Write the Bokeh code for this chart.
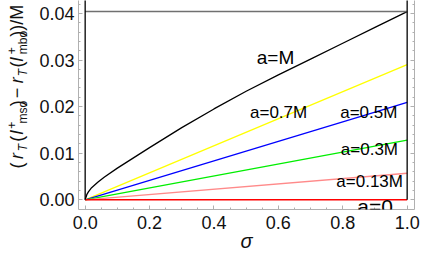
from math import pi
from bokeh.plotting import figure
from bokeh.layouts import row
from bokeh.models import (FixedTicker, PrintfTickFormatter, LinearAxis, Label,
                          Range1d, CustomJSTickFormatter)
from bokeh.core.properties import value
from bokeh.embed import file_html
from bokeh.resources import INLINE

# ---------------- data ----------------
sigma_M = [0, 0.005, 0.01, 0.02, 0.04, 0.06, 0.1, 0.15, 0.2, 0.3, 0.4, 0.5,
           0.6, 0.7, 0.8, 0.9, 1.0]
dr_M = [0, 0.0011, 0.0017, 0.0026, 0.0038, 0.0049, 0.0068, 0.0090, 0.0112,
        0.0155, 0.0195, 0.0233, 0.0268, 0.0302, 0.0336, 0.0370, 0.0404]

sigma_lin = [0.0, 1.0]
dr_07 = [0.0, 0.0290]
dr_05 = [0.0, 0.0209]
dr_03 = [0.0, 0.0128]
dr_013 = [0.0, 0.0057]
dr_0 = [0.0, 0.0]

top_level = [0.0404, 0.0404]
edge_x = [0.0, 1.0]

series_labels = ["a=M", "a=0.7M", "a=0.5M", "a=0.3M", "a=0.13M", "a=0"]

x_ticks = [0.0, 0.2, 0.4, 0.6, 0.8, 1.0]
x_minor = [0.05, 0.1, 0.15, 0.25, 0.3, 0.35, 0.45, 0.5, 0.55, 0.65, 0.7, 0.75,
           0.85, 0.9, 0.95]
y_ticks = [0.00, 0.01, 0.02, 0.03, 0.04]
y_minor = [0.002, 0.004, 0.006, 0.008, 0.012, 0.014, 0.016, 0.018, 0.022,
           0.024, 0.026, 0.028, 0.032, 0.034, 0.036, 0.038, 0.042]

FONT = "Liberation Sans"
AX = "#b0b0b0"
TXT = "#111111"

YL_W = 36           # width of the strip holding the rotated y title
MAIN_W = 422 - YL_W
H = 265

# ---------------- main plot ----------------
p = figure(width=MAIN_W, height=H, output_backend="svg",
           toolbar_location=None,
           x_range=Range1d(-0.0207, 1.0228), y_range=Range1d(-0.00208, 0.04277),
           min_border_left=76 - YL_W, min_border_right=8, min_border_top=0,
           min_border_bottom=H - 209)
p.outline_line_color = None
p.grid.visible = False
p.background_fill_color = "white"
p.border_fill_color = "white"

xt = FixedTicker(ticks=x_ticks, minor_ticks=x_minor)
yt = FixedTicker(ticks=y_ticks, minor_ticks=y_minor)


def style_axis(ax):
    ax.axis_line_color = AX
    ax.axis_line_width = 1
    ax.major_tick_line_color = AX
    ax.minor_tick_line_color = AX
    ax.major_tick_in = 4
    ax.major_tick_out = 0
    ax.minor_tick_in = 2
    ax.minor_tick_out = 0
    ax.major_label_text_font = FONT
    ax.major_label_text_font_size = "18px"
    ax.major_label_text_color = TXT


p.xaxis.ticker = xt
p.xaxis.formatter = PrintfTickFormatter(format="%.1f")
p.yaxis.ticker = yt
p.yaxis.formatter = PrintfTickFormatter(format="%.2f")
style_axis(p.xaxis[0])
style_axis(p.yaxis[0])
p.xaxis.major_label_standoff = 6
p.yaxis.major_label_standoff = 4
p.xaxis.axis_label = "σ"
p.xaxis.axis_label_text_font = FONT
p.xaxis.axis_label_text_font_style = "italic"
p.xaxis.axis_label_text_font_size = "20px"
p.xaxis.axis_label_text_color = TXT
p.xaxis.axis_label_standoff = -2

ra = LinearAxis(ticker=yt, major_label_standoff=0,
                formatter=CustomJSTickFormatter(code="return ''"))
style_axis(ra)
p.add_layout(ra, "right")

# curves
p.line(sigma_M, dr_M, line_color="black", line_width=1.3)
p.line(sigma_lin, dr_07, line_color="#ffff00", line_width=1.3)
p.line(sigma_lin, dr_05, line_color="#0000ff", line_width=1.3)
p.line(sigma_lin, dr_03, line_color="#00ee00", line_width=1.3)
p.line(sigma_lin, dr_013, line_color="#ff8a8a", line_width=1.3)
p.line(sigma_lin, dr_0, line_color="#ff0000", line_width=1.5)
p.line(edge_x, top_level, line_color="#707070", line_width=1.6)
p.segment(x0=edge_x, y0=dr_0, x1=edge_x, y1=[0.05, 0.05], line_color="black",
          line_width=1.3)

# curve labels (data coordinates)
label_pos = [(0.533, 0.03047, "19px"), (0.512, 0.0188, "17px"),
             (0.792, 0.0188, "17px"), (0.794, 0.01073, "17px"),
             (0.780, 0.00393, "17px"), (0.845, -0.00150, "21px")]
for txt, (lx, ly, fs) in zip(series_labels, label_pos):
    p.add_layout(Label(x=lx, y=ly, text=txt, text_font=FONT, text_font_size=fs,
                       text_color="black", text_align="left",
                       text_baseline="alphabetic"))

# ---------------- y axis title strip (pixel coordinates) ----------------
yl = figure(width=YL_W, height=H, output_backend="svg", toolbar_location=None,
            x_range=Range1d(0, YL_W), y_range=Range1d(H, 0),
            x_axis_type=None, y_axis_type=None,
            min_border_left=0, min_border_right=0, min_border_top=0,
            min_border_bottom=0)
yl.outline_line_color = None
yl.grid.visible = False

# (text, start position along the label, baseline position, size, style)
ylabel_parts = [
    ("(", 213, 16, 18, "normal"),
    ("r", 201, 16, 18, "italic"),
    ("T", 191, 22.5, 12, "italic"),
    ("(", 179, 16, 18, "normal"),
    ("l", 170, 16, 18, "italic"),
    ("+", 162.5, 11, 12, "normal"),
    ("mso", 156, 22.5, 12, "normal"),
    (")", 134, 16, 18, "normal"),
    ("\u2212", 124, 16, 18, "normal"),
    ("r", 105, 16, 18, "italic"),
    ("T", 96, 22.5, 12, "italic"),
    ("(", 85, 16, 18, "normal"),
    ("l", 77.5, 16, 18, "italic"),
    ("+", 68, 11, 12, "normal"),
    ("mbo", 68, 22.5, 12, "normal"),
    ("))/M", 46, 16, 18, "normal"),
]
for txt, py, px, fs, style in ylabel_parts:
    yl.text(x=[px], y=[py], text=[txt], angle=pi / 2,
            text_font=value(FONT), text_font_size=value(f"{fs}px"),
            text_font_style=style, text_color=TXT,
            text_align="left", text_baseline="alphabetic")

layout = row(yl, p, spacing=0)

open("out.html", "w").write(file_html(layout, INLINE))
